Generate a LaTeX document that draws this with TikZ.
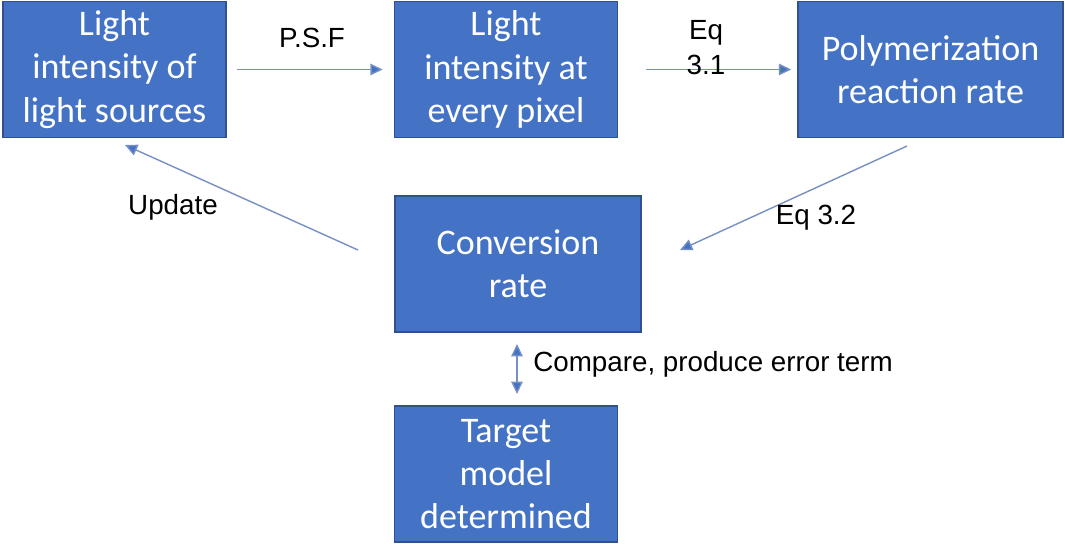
\documentclass[tikz,border=0pt]{standalone}
\usepackage{fontspec}
\setmainfont{Liberation Sans}
\newfontfamily\boxfont{Carlito}
\usetikzlibrary{arrows.meta,positioning}
\definecolor{boxblue}{HTML}{4472C4}
\definecolor{boxedge}{HTML}{2F528F}
\definecolor{linkcol}{HTML}{7690C4}

\begin{document}
\begin{tikzpicture}[x=0.02cm, y=-0.02cm,
    block/.style={rectangle, draw=boxedge, line width=0.9pt, fill=boxblue, text=white,
        minimum width=4.46cm, minimum height=2.72cm, align=center, inner sep=0pt,
        font=\boxfont\fontsize{20.5}{24.6}\selectfont},
    arrow/.style={-{Triangle[length=7pt,width=6.5pt,fill=boxblue]}, draw=linkcol, line width=0.8pt},
    twoway/.style={{Triangle[length=7pt,width=6.5pt,fill=boxblue]}-{Triangle[length=7pt,width=6.5pt,fill=boxblue]}, draw=linkcol, line width=0.8pt},
    lbl/.style={font=\fontsize{15.8}{20}\selectfont, align=center, inner sep=0pt}
]
    \useasboundingbox (0,0) rectangle (1065,544);

    % Top row
    \node[block] (src) at (114.5,69.5) {Light\\intensity of\\light sources};
    \node[block] (pix) at (506,69.5) {Light\\intensity at\\every pixel};
    \node[block, minimum width=5.3cm] (rate) at (930.5,69.5) {Polymerization\\reaction rate};

    % Middle and bottom
    \node[block, minimum width=4.92cm] (conv) at (518,264) {Conversion\\rate};
    \node[block] (target) at (506,474) {Target\\model\\determined};

    % Free ends
    \coordinate (e32a) at (907,146);
    \coordinate (e32b) at (680,250);
    \coordinate (upa) at (358,250);
    \coordinate (upb) at (125,145);
    \coordinate (cmpa) at (517,344);
    \coordinate (cmpb) at (517,394);

    \draw[arrow, shorten <=10*0.02cm, shorten >=11*0.02cm] (src) -- (pix);
    \draw[arrow, shorten <=28*0.02cm, shorten >=6*0.02cm] (pix) -- (rate);
    \draw[arrow] (e32a) -- (e32b);
    \draw[arrow] (upa) -- (upb);
    \draw[twoway] (cmpa) -- (cmpb);

    % Labels
    \node[lbl] (lpsf) at (312,38) {P.S.F};
    \node[lbl] (leq1) at (706,48) {Eq\\3.1};
    \node[lbl] (leq2) at (816,218) {Eq 3.2};
    \node[lbl] (lupd) at (173,207) {Update};
    \node[lbl, anchor=west] (lcmp) at (533,364) {Compare, produce error term};
\end{tikzpicture}
\end{document}
